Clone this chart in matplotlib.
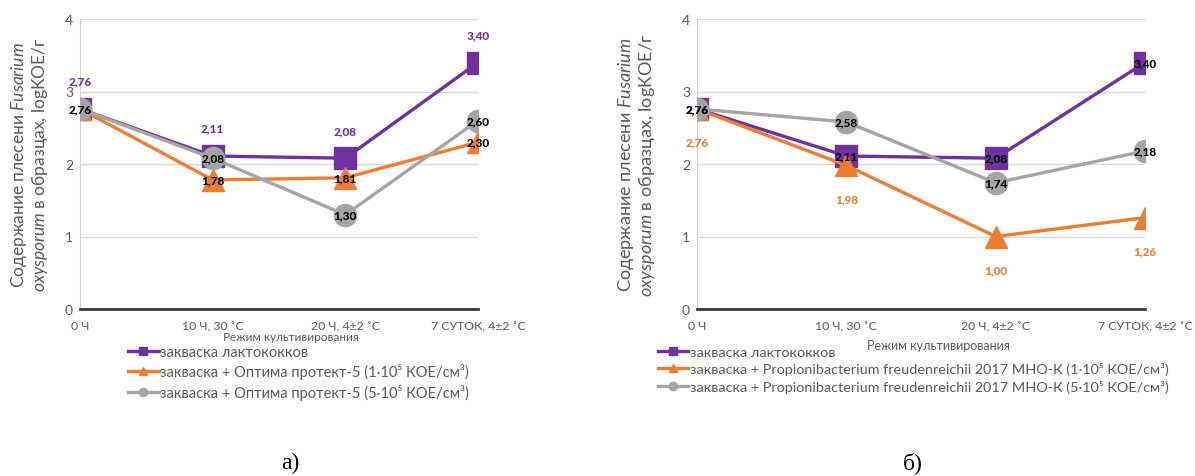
import matplotlib
matplotlib.use('Agg')
import matplotlib.pyplot as plt
from matplotlib.lines import Line2D

plt.rcParams['font.family'] = ['Lato', 'Open Sans', 'DejaVu Sans']
plt.rcParams['mathtext.fontset'] = 'custom'
plt.rcParams['mathtext.rm'] = 'Lato'
plt.rcParams['mathtext.it'] = 'Lato:italic'

# data
categories = ["0 Ч", "10 Ч, 30 ˚С", "20 Ч, 4±2 ˚С", "7 СУТОК, 4±2 ˚С"]

a_lacto = [2.76, 2.11, 2.08, 3.40]
a_opt1 = [2.76, 1.78, 1.81, 2.30]
a_opt5 = [2.76, 2.08, 1.30, 2.60]

b_lacto = [2.76, 2.11, 2.08, 3.40]
b_prop1 = [2.76, 1.98, 1.00, 1.26]
b_prop5 = [2.76, 2.58, 1.74, 2.18]

a_names = ["закваска лактококков",
           "закваска + Оптима протект-5 (1·10⁵ КОЕ/см³)",
           "закваска + Оптима протект-5 (5·10⁵ КОЕ/см³)"]
b_names = ["закваска лактококков",
           "закваска + Propionibacterium freudenreichii 2017 МНО-К (1·10⁵ КОЕ/см³)",
           "закваска + Propionibacterium freudenreichii 2017 МНО-К (5·10⁵ КОЕ/см³)"]

purple = '#7030A0'
orange = '#ED7D31'
grey = '#A5A5A5'
ylab = "Содержание плесени $\\mathit{Fusarium}$\n$\\mathit{oxysporum}$ в образцах, logKOE/г"

W, H = 1195, 477
fig = plt.figure(figsize=(W / 100, H / 100), dpi=100)


def fmt(v):
    return f"{v:.2f}".replace('.', ',')


def draw(ax, series, label_pos, ylsize):
    x = range(len(categories))
    for (vals, col, mk), pos in zip(series, label_pos):
        ax.plot(x, vals, color=col, lw=2.4, marker=mk, ms=16, zorder=3,
                solid_capstyle='round')
        for i, v in enumerate(vals):
            p = pos[i]
            if p is None:
                continue
            if p == 'on':
                ax.annotate(fmt(v), (i, v), ha='center', va='center',
                            fontsize=8.5, fontweight='black', color='black', zorder=5)
            else:
                dy = 20 if p == 'up' else -24
                ax.annotate(fmt(v), (i, v), xytext=(0, dy), textcoords='offset points',
                            ha='center', va='center', fontsize=8.5,
                            fontweight='black', color=col, zorder=5)
    ax.set_ylim(0, 4)
    ax.set_xlim(0, 3)
    ax.set_yticks([0, 1, 2, 3, 4])
    ax.set_xticks(list(x))
    ax.set_xticklabels(categories)
    ax.tick_params(length=0, labelsize=8.8, colors='#595959', pad=5)
    ax.tick_params(axis='x', pad=8)
    ax.tick_params(axis='y', labelsize=10)
    ax.grid(axis='y', color='#D9D9D9', lw=1)
    ax.set_axisbelow(True)
    for s in ['top', 'right']:
        ax.spines[s].set_visible(False)
    ax.spines['left'].set_color('#D0D0D0')
    ax.spines['bottom'].set_color('#3A3A3A')
    ax.spines['bottom'].set_linewidth(2)
    ax.set_ylabel(ylab, fontsize=ylsize, color='#595959', linespacing=1.1)


def handles():
    return [Line2D([], [], color=purple, lw=2.4, marker='s', ms=6),
            Line2D([], [], color=orange, lw=2.4, marker='^', ms=6),
            Line2D([], [], color=grey, lw=2.4, marker='o', ms=6)]


# panel a
ax1 = fig.add_axes([80 / W, 1 - 310 / H, 398 / W, 290 / H])
draw(ax1, [(a_lacto, purple, 's'), (a_opt1, orange, '^'), (a_opt5, grey, 'o')],
     [['up', 'up', 'up', 'up'], [None, 'on', 'on', 'on'], ['on', 'on', 'on', 'on']], 12.5)
ax1.yaxis.set_label_coords(-0.075, 0.5)
ax1.set_xlabel("Режим культивирования", fontsize=8.5, color='#595959')
ax1.xaxis.set_label_coords(0.53, -0.075)
fig.legend(handles(), a_names, loc='upper left', bbox_to_anchor=(128 / W, 1 - 346 / H),
           frameon=False, fontsize=10.5, handlelength=2.1, handletextpad=0.1,
           labelspacing=0.3, borderpad=0, borderaxespad=0, labelcolor='#595959')
fig.text(290 / W, 1 - 463 / H, "а)", ha='center', va='center', fontsize=17,
         family='Liberation Serif')

# panel b
ax2 = fig.add_axes([697 / W, 1 - 310 / H, 448 / W, 290 / H])
draw(ax2, [(b_lacto, purple, 's'), (b_prop1, orange, '^'), (b_prop5, grey, 'o')],
     [['on', 'on', 'on', 'on'], ['down', 'down', 'down', 'down'], ['on', 'on', 'on', 'on']], 13)
ax2.yaxis.set_label_coords(-0.089, 0.5)
ax2.set_xlabel("Режим культивирования", fontsize=9, color='#595959')
ax2.xaxis.set_label_coords(0.538, -0.105)
fig.legend(handles(), b_names, loc='upper left', bbox_to_anchor=(658 / W, 1 - 347 / H),
           frameon=False, fontsize=10.4, handlelength=2.1, handletextpad=0.1,
           labelspacing=0.3, borderpad=0, borderaxespad=0, labelcolor='#595959')
fig.text(913 / W, 1 - 463 / H, "б)", ha='center', va='center', fontsize=17,
         family='Liberation Serif')

fig.savefig('out.png', dpi=100)
